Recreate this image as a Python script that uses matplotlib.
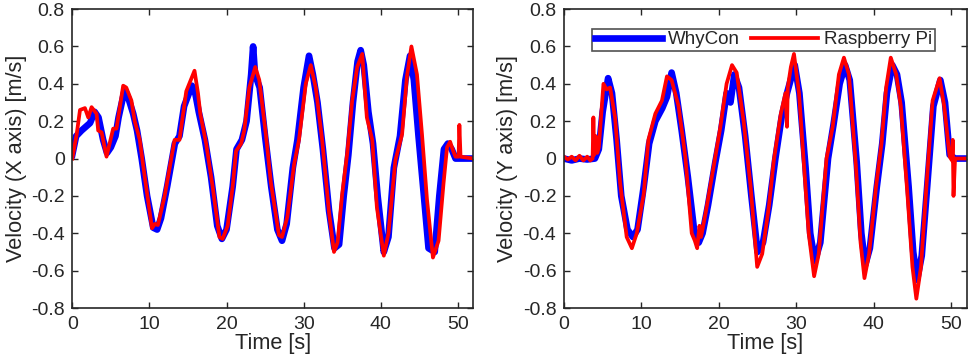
import matplotlib
matplotlib.use("Agg")
import matplotlib.pyplot as plt
from matplotlib.ticker import FuncFormatter

plt.rcParams['font.family'] = ['Liberation Sans', 'DejaVu Sans']

# ---- data (time [s], velocity [m/s]) ----
x_whycon = [(0, 0.02), (0.5, 0.12), (1.2, 0.15), (2.3, 0.19), (2.9, 0.25), (3.4, 0.22), (4.0, 0.1),
            (4.5, 0.03), (5.0, 0.06), (5.6, 0.12), (6.0, 0.22), (6.8, 0.37), (7.3, 0.32), (7.9, 0.24),
            (8.4, 0.15), (9.0, 0.0), (9.7, -0.2), (10.5, -0.37), (11.0, -0.38), (11.5, -0.32),
            (12.3, -0.15), (13.3, 0.08), (13.9, 0.12), (14.5, 0.28), (15.5, 0.39), (15.9, 0.36),
            (16.4, 0.25), (17.2, 0.1), (18.0, -0.1), (18.8, -0.36), (19.4, -0.43), (20.0, -0.38),
            (20.8, -0.15), (21.3, 0.05), (22.0, 0.1), (22.6, 0.2), (23.2, 0.45), (23.45, 0.6),
            (23.7, 0.45), (24.3, 0.38), (25.0, 0.12), (25.8, -0.15), (26.6, -0.38), (27.2, -0.44),
            (27.8, -0.35), (28.6, -0.05), (29.2, 0.1), (30.0, 0.38), (30.7, 0.55), (31.2, 0.45),
            (31.8, 0.3), (32.5, 0.05), (33.3, -0.28), (34.0, -0.48), (34.6, -0.46), (35.2, -0.2),
            (35.8, 0.02), (36.4, 0.3), (37.0, 0.52), (37.4, 0.58), (37.8, 0.5), (38.4, 0.25),
            (39.0, 0.08), (39.6, -0.2), (40.4, -0.5), (41.0, -0.42), (41.7, -0.05), (42.5, 0.12),
            (43.2, 0.42), (43.8, 0.55), (44.3, 0.42), (44.9, 0.12), (45.6, -0.2), (46.2, -0.48),
            (47.0, -0.5), (47.6, -0.2), (48.2, 0.05), (48.7, 0.08), (49.2, 0.05), (49.7, 0.0),
            (50.5, 0.0), (52, 0.0)]

x_raspi = [(0, 0.0), (0.57, 0.13), (1.0, 0.26), (1.64, 0.27), (2.07, 0.22), (2.5, 0.275), (3.15, 0.24),
           (3.36, 0.15), (3.8, 0.14), (4.44, 0.01), (5.3, 0.16), (5.73, 0.16), (6.6, 0.39), (7.0, 0.38),
           (7.67, 0.31), (8.1, 0.2), (8.75, 0.1), (9.4, -0.1), (10.34, -0.373), (10.7, -0.35),
           (11.1, -0.356), (11.98, -0.2), (13.27, 0.1), (13.9, 0.1), (14.78, 0.36), (15.85, 0.47),
           (16.3, 0.35), (16.6, 0.24), (17.36, 0.08), (18.2, -0.15), (19.08, -0.42), (19.5, -0.43),
           (20.15, -0.36), (20.8, -0.15), (21.24, 0.04), (21.9, 0.08), (22.3, 0.15), (22.96, 0.38),
           (23.73, 0.49), (24.25, 0.42), (25.1, 0.13), (25.76, -0.13), (26.8, -0.41), (27.2, -0.42),
           (27.9, -0.31), (28.77, -0.03), (29.4, 0.1), (30.28, 0.4), (30.93, 0.5), (31.57, 0.38),
           (32.4, 0.1), (33.3, -0.29), (33.94, -0.5), (34.4, -0.45), (35.0, -0.19), (35.66, 0.03),
           (36.3, 0.31), (36.95, 0.49), (37.6, 0.56), (38.2, 0.22), (38.9, 0.1), (39.5, -0.26),
           (40.4, -0.52), (41.0, -0.4), (41.9, -0.01), (42.77, 0.13), (43.4, 0.44), (43.98, 0.6),
           (44.7, 0.45), (45.35, 0.13), (46.0, -0.22), (46.77, -0.53), (47.5, -0.44), (48.15, -0.13),
           (48.6, 0.06), (49.0, 0.09), (49.4, 0.04), (49.7, 0.01), (50.1, 0.01), (50.2, 0.18),
           (50.35, 0.01), (52, 0.0)]

y_whycon = [(0, 0.0), (1, -0.01), (2, 0.0), (3, -0.005), (4, 0.0), (4.5, 0.05), (5.0, 0.25), (5.7, 0.43),
            (6.2, 0.35), (6.8, 0.1), (7.4, -0.2), (8.2, -0.38), (8.9, -0.42), (9.5, -0.38), (10.3, -0.15),
            (11.0, 0.08), (11.8, 0.2), (12.7, 0.27), (13.3, 0.33), (13.9, 0.46), (14.5, 0.35),
            (15.2, 0.15), (16.0, -0.1), (16.8, -0.38), (17.4, -0.45), (17.9, -0.4), (18.6, -0.25),
            (19.5, -0.03), (20.3, 0.15), (21.0, 0.35), (21.5, 0.3), (22.0, 0.45), (22.6, 0.38),
            (23.4, 0.12), (24.2, -0.2), (25.0, -0.5), (25.7, -0.45), (26.5, -0.25), (27.3, 0.0),
            (28.1, 0.22), (28.8, 0.35), (29.8, 0.5), (30.4, 0.35), (31.2, -0.05), (31.8, -0.4),
            (32.4, -0.55), (33.1, -0.45), (34.1, 0.0), (34.8, 0.18), (35.6, 0.4), (36.3, 0.5),
            (36.9, 0.42), (37.8, -0.02), (38.4, -0.4), (38.9, -0.57), (39.5, -0.48), (40.4, -0.15),
            (41.1, 0.08), (41.7, 0.35), (42.4, 0.5), (43.0, 0.45), (43.6, 0.3), (44.5, -0.15),
            (45.1, -0.5), (45.6, -0.65), (46.2, -0.52), (46.9, -0.15), (47.7, 0.28), (48.6, 0.42),
            (49.2, 0.3), (49.8, 0.02), (50.5, 0.0), (52, 0.0)]

y_raspi = [(0, 0.01), (0.5, -0.005), (1.0, 0.01), (1.5, -0.01), (2.0, 0.015), (2.5, -0.01), (3.0, 0.01),
           (3.4, -0.01), (3.7, 0.0), (3.8, 0.22), (3.9, 0.02), (4.1, 0.12), (4.3, 0.03), (4.5, 0.06),
           (5.1, 0.4), (5.5, 0.37), (5.96, 0.38), (6.6, 0.22), (7.25, -0.13), (8.1, -0.42), (8.77, -0.48),
           (9.4, -0.4), (10.3, -0.19), (10.9, 0.1), (11.8, 0.24), (12.65, 0.31), (13.3, 0.44),
           (13.9, 0.42), (14.8, 0.28), (15.67, 0.01), (16.5, -0.4), (16.9, -0.44), (17.2, -0.48),
           (17.5, -0.36), (17.7, -0.42), (18.3, -0.29), (19.34, -0.04), (20.2, 0.17), (21.0, 0.4),
           (21.7, 0.5), (22.3, 0.46), (23.2, 0.2), (24.1, -0.15), (24.95, -0.58), (25.6, -0.51),
           (26.45, -0.26), (27.1, -0.01), (28.0, 0.24), (28.6, 0.35), (28.8, 0.17), (28.9, 0.38),
           (29.3, 0.49), (29.7, 0.56), (30.35, 0.35), (31.0, -0.04), (31.6, -0.4), (32.3, -0.63),
           (32.9, -0.51), (33.9, 0.0), (34.7, 0.17), (35.5, 0.45), (36.15, 0.54), (36.8, 0.45),
           (37.7, -0.04), (38.3, -0.45), (38.8, -0.64), (39.4, -0.51), (40.3, -0.15), (41.0, 0.08),
           (41.6, 0.38), (42.2, 0.54), (42.9, 0.45), (43.5, 0.28), (44.35, -0.19), (45.0, -0.58),
           (45.5, -0.75), (46.1, -0.58), (46.8, -0.15), (47.6, 0.31), (48.5, 0.43), (49.1, 0.28),
           (49.8, 0.01), (50.1, -0.01), (50.2, 0.1), (50.3, -0.2), (50.5, 0.0), (52, 0.0)]

x_ticks = [0, 10, 20, 30, 40, 50]
y_ticks = [-0.8, -0.6, -0.4, -0.2, 0, 0.2, 0.4, 0.6, 0.8]
series_labels = ["WhyCon", "Raspberry Pi"]
y_labels = ["Velocity (X axis) [m/s]", "Velocity (Y axis) [m/s]"]
x_label = "Time [s]"

# ---- drawing ----
dark = (0.15, 0.15, 0.15)
fig = plt.figure(figsize=(9.69, 3.63), dpi=100)
ax1 = fig.add_axes([0.0746, 0.1515, 0.4138, 0.8235])
ax2 = fig.add_axes([0.5820, 0.1515, 0.4156, 0.8235])

def fmt(v, pos):
    if abs(v) < 1e-9:
        return "0"
    return "%g" % v

for ax, wc, rp, yl in [(ax1, x_whycon, x_raspi, y_labels[0]), (ax2, y_whycon, y_raspi, y_labels[1])]:
    ax.plot([p[0] for p in wc], [p[1] for p in wc], color=(0, 0, 1), lw=4.8,
            solid_joinstyle='round', label=series_labels[0])
    ax.plot([p[0] for p in rp], [p[1] for p in rp], color=(1, 0, 0), lw=2.7,
            solid_joinstyle='round', label=series_labels[1])
    ax.set_xlim(0, 52)
    ax.set_ylim(-0.8, 0.8)
    ax.set_xticks(x_ticks)
    ax.set_yticks(y_ticks)
    ax.yaxis.set_major_formatter(FuncFormatter(fmt))
    ax.tick_params(direction='in', length=4, width=1, top=True, right=True,
                   labelsize=14, colors=dark, pad=5.5)
    for s in ax.spines.values():
        s.set_color(dark)
        s.set_linewidth(1.2)
    ax.set_xlabel(x_label, fontsize=15.7, color=dark, labelpad=0)
    ax.set_ylabel(yl, fontsize=15.7, color=dark, labelpad=3)

leg = ax2.legend(loc='upper left', bbox_to_anchor=(0.069, 0.935), ncol=2, fontsize=13.5,
                 frameon=True, fancybox=False, edgecolor=dark, borderaxespad=0,
                 handlelength=3.6, columnspacing=0.6, handletextpad=0.3,
                 borderpad=0.15)
leg.get_frame().set_linewidth(1.2)
for t in leg.get_texts():
    t.set_color(dark)

fig.savefig("out.png", dpi=100)
